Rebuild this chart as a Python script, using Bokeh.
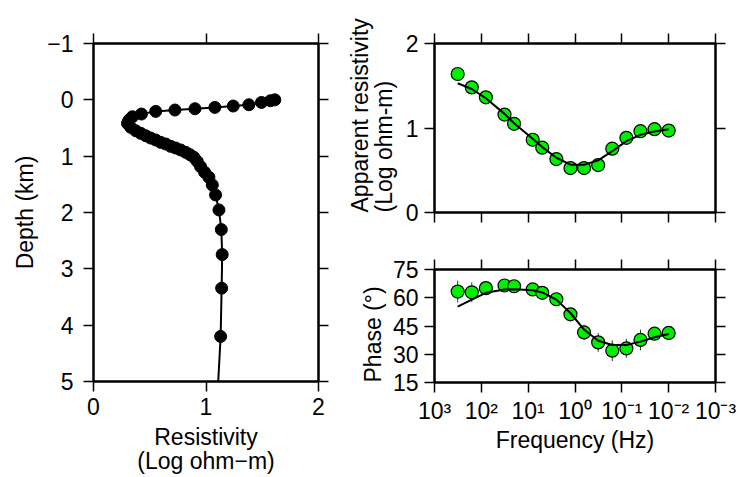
import numpy as np
from bokeh.plotting import figure
from bokeh.models import Range1d, FixedTicker, LinearAxis, Title
from bokeh.layouts import row, column
from bokeh.embed import file_html
from bokeh.resources import INLINE

FONT = "Liberation Sans"
TICK_FS = "23px"
LABEL_FS = "23px"

# ---------------- data ----------------
# Resistivity model (left panel)
depth_km = [0.0, 0.016, 0.046, 0.087, 0.110, 0.134, 0.158, 0.181, 0.205, 0.252,
            0.300, 0.359, 0.418, 0.489, 0.548, 0.595, 0.637, 0.678, 0.713, 0.755,
            0.784, 0.826, 0.855, 0.890, 0.932, 0.973, 1.021, 1.092, 1.186, 1.287,
            1.375, 1.511, 1.688, 1.954, 2.303, 2.747, 3.343, 4.200, 5.400]
log_resistivity = [1.612, 1.573, 1.493, 1.381, 1.242, 1.079, 0.902, 0.724, 0.553, 0.426,
                   0.346, 0.316, 0.302, 0.331, 0.375, 0.420, 0.464, 0.508, 0.553, 0.597,
                   0.642, 0.686, 0.730, 0.775, 0.819, 0.857, 0.893, 0.922, 0.952, 0.988,
                   1.026, 1.056, 1.085, 1.115, 1.136, 1.144, 1.139, 1.130, 1.098]

# MT sounding (right panels)
freq_hz = [320, 160, 80, 32, 20, 8, 5, 2.5, 1.25, 0.64, 0.32, 0.16, 0.08, 0.04, 0.02, 0.01]
app_res_obs = [1.639, 1.481, 1.363, 1.159, 1.050, 0.861, 0.767, 0.632, 0.526, 0.526,
               0.561, 0.755, 0.884, 0.962, 0.986, 0.970]
app_res_model = [1.529, 1.462, 1.352, 1.167, 1.057, 0.872, 0.774, 0.648, 0.566, 0.566,
                 0.617, 0.727, 0.845, 0.919, 0.959, 0.986]
phase_obs = [63.3, 62.9, 65.1, 66.5, 66.1, 64.4, 62.6, 59.2, 51.2, 41.6,
             36.3, 31.9, 33.1, 37.6, 40.9, 41.3]
phase_err = [5.8, 5.3, 3.0, 2.5, 2.5, 2.5, 2.5, 3.0, 3.0, 4.0,
             5.0, 5.5, 5.0, 5.5, 3.0, 3.0]
phase_model = [55.3, 59.0, 62.6, 64.4, 64.5, 64.0, 62.8, 59.0, 51.9, 43.1,
               37.2, 34.9, 34.9, 36.7, 39.0, 40.8]

depth_ticks = [-1, 0, 1, 2, 3, 4, 5]
res_ticks = [0, 1, 2]
freq_ticks = [3, 2, 1, 0, -1, -2, -3]
freq_tick_labels = ["10\u00b3", "10\u00b2", "10\u00b9", "10\u2070",
                    "10\u207b\u00b9", "10\u207b\u00b2", "10\u207b\u00b3"]
app_res_ticks = [0, 1, 2]
phase_ticks = [15, 30, 45, 60, 75]

log_f = np.log10(np.array(freq_hz))
phase_lo = [p - e for p, e in zip(phase_obs, phase_err)]
phase_hi = [p + e for p, e in zip(phase_obs, phase_err)]


def style_axis(ax, ticks, show_labels=True):
    ax.ticker = FixedTicker(ticks=ticks)
    ax.axis_line_color = "black"
    ax.axis_line_width = 2
    ax.major_tick_out = 10
    ax.major_tick_in = 0
    ax.major_tick_line_width = 1.5
    ax.major_tick_line_color = "black"
    ax.minor_tick_line_color = None
    ax.major_label_text_font = FONT
    ax.axis_label_text_font = FONT
    ax.axis_label_text_font_style = "normal"
    ax.axis_label_text_font_size = LABEL_FS
    ax.axis_label_text_color = "black"
    ax.axis_label_text_line_height = 0.94
    if show_labels:
        ax.major_label_text_font_size = TICK_FS
        ax.major_label_text_color = "black"
    else:
        ax.major_label_text_font_size = "1px"
        ax.major_label_text_color = None
        ax.major_label_standoff = 0


def frame(p, xticks, yticks, xlabels=True, ylabels=True):
    p.outline_line_color = "black"
    p.outline_line_width = 2
    p.outline_line_alpha = 1
    p.grid.visible = False
    bottom = p.below[0]
    left = p.left[0]
    style_axis(bottom, xticks, xlabels)
    style_axis(left, yticks, ylabels)
    top = LinearAxis()
    style_axis(top, xticks, False)
    p.add_layout(top, "above")
    right = LinearAxis()
    style_axis(right, yticks, False)
    p.add_layout(right, "right")
    return bottom, left


def side_title(p, text, standoff):
    t = Title(text=text, align="left", text_font=FONT, text_font_size=LABEL_FS,
              text_font_style="normal", text_color="black", text_line_height=0.94,
              standoff=standoff)
    p.add_layout(t, "left")


# ---------------- left panel ----------------
p1 = figure(width=340, height=477, output_backend="svg", toolbar_location=None,
            x_range=Range1d(0, 2), y_range=Range1d(5, -1),
            min_border_left=93, min_border_right=22, min_border_top=43, min_border_bottom=96)
b1, l1 = frame(p1, res_ticks, depth_ticks)
b1.axis_label = "Resistivity\n(Log ohm\u2212m)"
l1.axis_label = "Depth (km)"
l1.major_label_overrides = {-1: "\u22121"}
l1.major_label_standoff = 10
b1.major_label_standoff = 6
b1.axis_label_standoff = 6
l1.axis_label_standoff = 6
p1.line(log_resistivity, depth_km, line_color="black", line_width=2)
p1.scatter(log_resistivity, depth_km, size=12, fill_color="black", line_color="black")

# ---------------- top right panel ----------------
p2 = figure(width=398, height=240, output_backend="svg", toolbar_location=None,
            x_range=Range1d(3, -3), y_range=Range1d(0, 2),
            min_border_left=92, min_border_right=23, min_border_top=43, min_border_bottom=28)
b2, l2 = frame(p2, freq_ticks, app_res_ticks, xlabels=False)
l2.major_label_standoff = 6
side_title(p2, "Apparent resistivity\n(Log ohm-m)", 10)
p2.scatter(log_f, app_res_obs, size=13, fill_color="#00ee00", line_color="black", line_width=1.2)
p2.line(log_f, app_res_model, line_color="black", line_width=2)

# ---------------- bottom right panel ----------------
p3 = figure(width=398, height=237, output_backend="svg", toolbar_location=None,
            x_range=Range1d(3, -3), y_range=Range1d(15, 75),
            min_border_left=92, min_border_right=23, min_border_top=29, min_border_bottom=95)
b3, l3 = frame(p3, freq_ticks, phase_ticks)
b3.major_label_overrides = {t: s for t, s in zip(freq_ticks, freq_tick_labels)}
b3.axis_label = "Frequency (Hz)"
b3.major_label_standoff = 5
b3.axis_label_standoff = 0
l3.major_label_standoff = 6
side_title(p3, "Phase (\u00b0)", 8)
p3.segment(x0=log_f, y0=phase_lo, x1=log_f, y1=phase_hi, line_color="#333333", line_width=1)
p3.scatter(log_f, phase_obs, size=13, fill_color="#00ee00", line_color="black", line_width=1.2)
p3.line(log_f, phase_model, line_color="black", line_width=2)

layout = row(p1, column(p2, p3))
open("out.html", "w").write(file_html(layout, INLINE))
